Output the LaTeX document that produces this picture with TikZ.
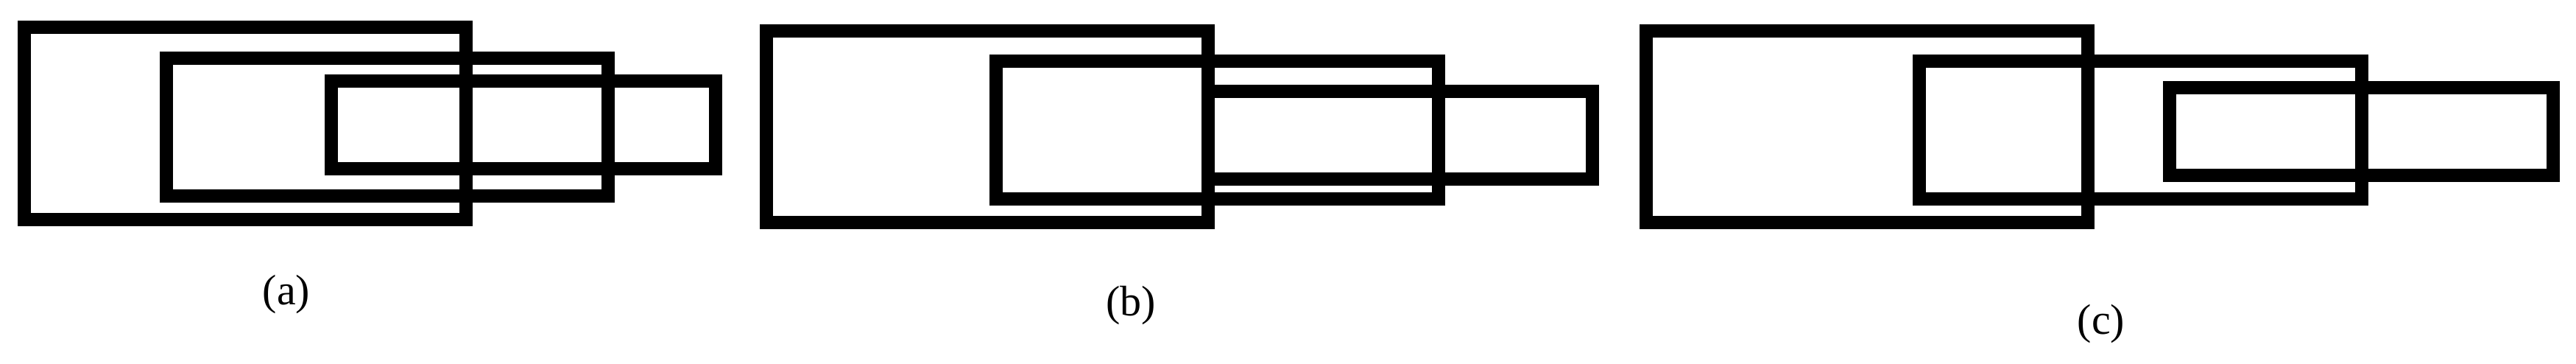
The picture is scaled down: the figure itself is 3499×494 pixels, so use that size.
\documentclass[tikz,border=0pt]{standalone}
\usepackage{fontspec}
\setmainfont{Liberation Serif}
\begin{document}
\begin{tikzpicture}[x=1pt,y=-1pt,box/.style={draw=black,line width=18pt},lab/.style={font=\fontsize{58}{70}\selectfont,inner sep=0pt}]
\useasboundingbox (0,0) rectangle (3499,494);
% (a)
\draw[box] (33,37) rectangle (633,298);
\draw[box] (226,79) rectangle (826,266);
\draw[box] (450,110) rectangle (972,229);
\node[lab] (la) at (389,400) {(a)};
% (b)
\draw[box] (1041,42) rectangle (1641,302);
\draw[box] (1353,83) rectangle (1954,270);
\draw[box] (1641,124) rectangle (2163,243);
\node[lab] (lb) at (1536,415) {(b)};
% (c)
\draw[box] (2236,42) rectangle (2836,302);
\draw[box] (2607,83) rectangle (3208,270);
\draw[box] (2947,119) rectangle (3468,238);
\node[lab] (lc) at (2854,440) {(c)};
\end{tikzpicture}
\end{document}
